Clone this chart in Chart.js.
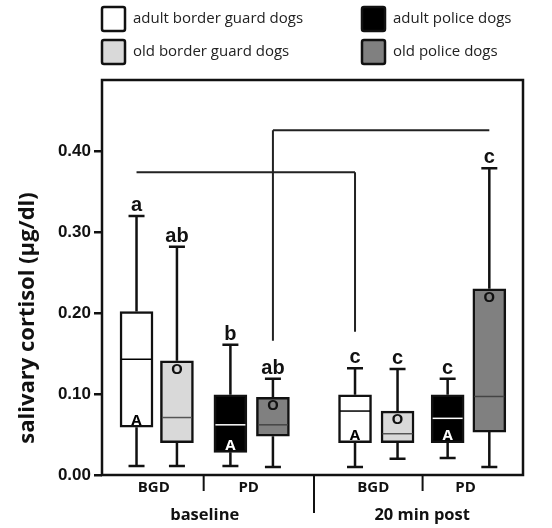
<!DOCTYPE html>
<html>
<head>
<meta charset="utf-8">
<script src="https://cdn.jsdelivr.net/npm/chart.js@4.4.0/dist/chart.umd.min.js"></script>
<style>
  body { margin: 0; background: #fff; }
  canvas { display: block; }
</style>
</head>
<body>
<canvas id="cortisol" width="552" height="528"></canvas>
<script>
/* --------------- Data --------------------- */
const boxNames = [
  "adult BGD baseline", "old BGD baseline", "adult PD baseline", "old PD baseline",
  "adult BGD 20 min", "old BGD 20 min", "adult PD 20 min", "old PD 20 min",
];
const boxPos = [0.82, 1.78, 3.05, 4.06, 6.01, 7.02, 8.21, 9.2]; // place on the x axis
const whiskerLow = [0.011, 0.011, 0.011, 0.010, 0.010, 0.020, 0.021, 0.010];
const q1 = [0.059, 0.040, 0.028, 0.048, 0.040, 0.040, 0.040, 0.053];
const median = [0.143, 0.071, 0.062, 0.062, 0.079, 0.051, 0.070, 0.097];
const q3 = [0.202, 0.141, 0.099, 0.096, 0.099, 0.079, 0.099, 0.230];
const whiskerHigh = [0.320, 0.282, 0.161, 0.119, 0.132, 0.131, 0.119, 0.379];
const sigLetters = ["a", "ab", "b", "ab", "c", "c", "c", "c"];
const ageMarks = ["A", "O", "A", "O", "A", "O", "A", "O"];

// brackets: from box, to box, height, which end drops and to what value
const brackets = [
  { from: 0, to: 4, y: 0.374, dropAt: 4, dropTo: 0.177 },
  { from: 3, to: 7, y: 0.426, dropAt: 3, dropTo: 0.166 },
];

const dogLabels = ["BGD", "PD", "BGD", "PD"];
const timeLabels = ["baseline", "20 min post"];
const legendLabels = ["adult border guard dogs", "old border guard dogs", "adult police dogs", "old police dogs"];
const yTicks = [0, 0.1, 0.2, 0.3, 0.4];

/* --------------- Styles --------------------- */
const fillColors = ["#ffffff", "#d9d9d9", "#000000", "#808080"];
const medianColors = ["#000000", "#555555", "#ffffff", "#444444"];
const markColors = ["#000000", "#111111", "#ffffff", "#111111"];
const ink = "#111111";

/* --------------- Box plot parts --------------------- */
const boxPlotPlugin = {
  id: "boxParts",
  beforeDatasetsDraw(chart) {
    const { ctx, scales: { x, y } } = chart;
    ctx.save();
    ctx.strokeStyle = ink;
    ctx.lineWidth = 2.5;
    boxPos.forEach((p, i) => {
      const cx = x.getPixelForValue(p);
      ctx.beginPath();
      ctx.moveTo(cx, y.getPixelForValue(whiskerHigh[i]));
      ctx.lineTo(cx, y.getPixelForValue(q3[i]));
      ctx.moveTo(cx, y.getPixelForValue(q1[i]));
      ctx.lineTo(cx, y.getPixelForValue(whiskerLow[i]));
      ctx.moveTo(cx - 8, y.getPixelForValue(whiskerHigh[i]));
      ctx.lineTo(cx + 8, y.getPixelForValue(whiskerHigh[i]));
      ctx.moveTo(cx - 8, y.getPixelForValue(whiskerLow[i]));
      ctx.lineTo(cx + 8, y.getPixelForValue(whiskerLow[i]));
      ctx.stroke();
    });
    ctx.restore();
  },
  afterDatasetsDraw(chart) {
    const { ctx, scales: { x, y } } = chart;
    ctx.save();
    boxPos.forEach((p, i) => {
      const cx = x.getPixelForValue(p);
      // median
      ctx.strokeStyle = medianColors[i % 4];
      ctx.lineWidth = 1.5;
      ctx.beginPath();
      ctx.moveTo(cx - 15, y.getPixelForValue(median[i]));
      ctx.lineTo(cx + 15, y.getPixelForValue(median[i]));
      ctx.stroke();
      // significance letters
      ctx.fillStyle = ink;
      ctx.font = 'bold 20px "Liberation Sans"';
      ctx.textAlign = "center";
      ctx.textBaseline = "alphabetic";
      ctx.fillText(sigLetters[i], cx, y.getPixelForValue(whiskerHigh[i]) - 5);
      // age marks inside the boxes
      ctx.fillStyle = markColors[i % 4];
      ctx.font = 'bold 15px "Open Sans"';
      if (ageMarks[i] === "A") {
        ctx.textBaseline = "bottom";
        ctx.fillText("A", cx, y.getPixelForValue(q1[i]) + 1);
      } else {
        ctx.textBaseline = "top";
        ctx.fillText("O", cx, y.getPixelForValue(q3[i]) + 1);
      }
    });
    ctx.restore();
  },
  afterDraw(chart) {
    const { ctx, chartArea: a, scales: { x, y } } = chart;
    ctx.save();
    // frame
    ctx.strokeStyle = ink;
    ctx.lineWidth = 2.5;
    ctx.strokeRect(a.left, a.top, a.right - a.left, a.bottom - a.top);

    // brackets
    ctx.lineWidth = 2;
    ctx.strokeStyle = "#222";
    brackets.forEach((b) => {
      const yy = y.getPixelForValue(b.y);
      ctx.beginPath();
      ctx.moveTo(x.getPixelForValue(boxPos[b.from]), yy);
      ctx.lineTo(x.getPixelForValue(boxPos[b.to]), yy);
      ctx.moveTo(x.getPixelForValue(boxPos[b.dropAt]), yy);
      ctx.lineTo(x.getPixelForValue(boxPos[b.dropAt]), y.getPixelForValue(b.dropTo));
      ctx.stroke();
    });

    // x axis group labels and separators
    ctx.strokeStyle = ink;
    ctx.lineWidth = 2;
    const mid = (i, j) => x.getPixelForValue((boxPos[i] + boxPos[j]) / 2);
    [[1, 2, 16], [5, 6, 16], [3, 4, 38]].forEach(([i, j, len]) => {
      ctx.beginPath();
      ctx.moveTo(mid(i, j), a.bottom);
      ctx.lineTo(mid(i, j), a.bottom + len);
      ctx.stroke();
    });
    ctx.fillStyle = ink;
    ctx.textAlign = "center";
    ctx.textBaseline = "middle";
    ctx.font = 'bold 15px "Open Sans"';
    dogLabels.forEach((t, k) => ctx.fillText(t, mid(2 * k, 2 * k + 1) - 3, a.bottom + 13));
    ctx.font = 'bold 16.5px "Open Sans"';
    timeLabels.forEach((t, k) => ctx.fillText(t, mid(4 * k, 4 * k + 3), a.bottom + 40));

    // y title
    ctx.save();
    ctx.translate(28, y.getPixelForValue(0.194));
    ctx.rotate(-Math.PI / 2);
    ctx.font = 'bold 22px "Open Sans"';
    ctx.fillText("salivary cortisol (\u00b5g/dl)", 0, 0);
    ctx.restore();

    // legend
    ctx.font = '15px "Open Sans"';
    ctx.textAlign = "left";
    legendLabels.forEach((t, k) => {
      const lx = k < 2 ? 102 : 362;
      const ly = k % 2 === 0 ? 7 : 40;
      ctx.fillStyle = fillColors[k];
      ctx.strokeStyle = ink;
      ctx.lineWidth = 2.5;
      ctx.beginPath();
      ctx.roundRect(lx, ly, 23, 24, 2);
      ctx.fill();
      ctx.stroke();
      ctx.fillStyle = "#222";
      ctx.fillText(t, lx + 31, ly + 12);
    });
    ctx.restore();
  },
};

/* --------------- Chart --------------------- */
const boxChart = new Chart(document.getElementById("cortisol"), {
  type: "bar",
  plugins: [boxPlotPlugin],
  data: {
    labels: boxNames,
    datasets: [
      {
        data: boxPos.map((p, i) => ({ x: p, y: [q1[i], q3[i]] })),
        backgroundColor: boxPos.map((_, i) => fillColors[i % 4]),
        borderColor: ink,
        borderWidth: 2.5,
        borderSkipped: false,
        barThickness: 33,
      },
    ],
  },
  options: {
    responsive: false,
    animation: false,
    layout: { padding: { top: 80, right: 29, left: 0, bottom: 0 } },
    plugins: { legend: { display: false }, tooltip: { enabled: false } },
    scales: {
      x: {
        type: "linear",
        offset: false,
        min: 0,
        max: 10,
        ticks: { display: false },
        grid: { display: false, offset: false },
        border: { display: false },
        afterFit: (s) => { s.height = 53; },
      },
      y: {
        min: 0,
        max: 0.488,
        afterBuildTicks: (s) => { s.ticks = yTicks.map((v) => ({ value: v })); },
        afterFit: (s) => { s.width = 102; },
        ticks: {
          color: ink,
          padding: 3,
          font: { family: "Liberation Sans", weight: "bold", size: 17 },
          callback: (v) => v.toFixed(2),
        },
        grid: { drawOnChartArea: false, color: ink, lineWidth: 2.5, tickLength: 8 },
        border: { display: false },
      },
    },
  },
});
</script>
</body>
</html>
